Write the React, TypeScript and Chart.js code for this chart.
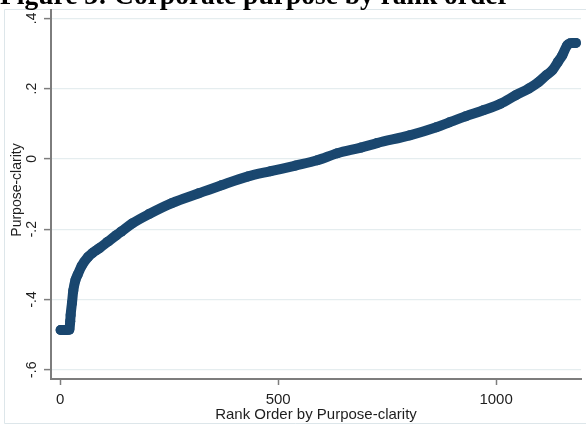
import React, { useEffect, useRef } from "react";
import { Chart, registerables } from "chart.js";

Chart.register(...registerables);

const chartTitle = "Figure 3: Corporate purpose by rank order";
const xAxisTitle = "Rank Order by Purpose-clarity";
const yAxisTitle = "Purpose-clarity";

// Rank order (x) and Purpose-clarity score (y)
const rankOrder = [
  1, 8, 15, 21, 23, 24, 27, 30, 35, 40, 49, 64, 74, 83, 90, 109, 129, 140,
  165, 204, 256, 318, 370, 431, 483, 540, 590, 636, 690, 727, 802, 863,
  893, 930, 970, 1010, 1045, 1075, 1097, 1115, 1129, 1142, 1152, 1163, 1170,
  1177, 1183,
];
const purposeClarity = [
  -0.487, -0.487, -0.487, -0.486, -0.462, -0.444, -0.41, -0.375, -0.345,
  -0.33, -0.305, -0.279, -0.268, -0.26, -0.254, -0.236, -0.217, -0.207,
  -0.184, -0.157, -0.126, -0.098, -0.075, -0.05, -0.035, -0.019,
  -0.004, 0.016, 0.032, 0.045, 0.067, 0.09, 0.104, 0.121, 0.138, 0.157,
  0.181, 0.2, 0.218, 0.238, 0.252, 0.276, 0.295, 0.323, 0.329, 0.33, 0.33,
];

const xTickValues = [0, 500, 1000];
const xTickLabels = ["0", "500", "1000"];
const yTickValues = [-0.6, -0.4, -0.2, 0, 0.2, 0.4];
const yTickLabels = ["-.6", "-.4", "-.2", "0", ".2", ".4"];

const NAVY = "#1a476f";
const AXIS = "#7d7d7d";
const GRID = "#e5edef";
const FRAME = "#dde6ea";
const TEXT = "#1e1e1e";

const overlayPlugin = {
  id: "overlay",
  beforeDraw(chart: any) {
    const { ctx, width, height } = chart;
    ctx.save();
    ctx.fillStyle = "#ffffff";
    ctx.fillRect(0, 0, width, height);
    ctx.strokeStyle = FRAME;
    ctx.lineWidth = 1;
    ctx.beginPath();
    ctx.moveTo(width, 9.5);
    ctx.lineTo(4.5, 9.5);
    ctx.lineTo(4.5, 423.5);
    ctx.lineTo(width, 423.5);
    ctx.stroke();
    ctx.restore();
  },
  afterDraw(chart: any) {
    const { ctx, chartArea } = chart;
    const xs = chart.scales.x;
    const ys = chart.scales.y;
    ctx.save();
    // figure title (cut off at the top)
    ctx.fillStyle = "#000000";
    ctx.font = "bold 27.5px 'Liberation Serif', 'Times New Roman', serif";
    ctx.textAlign = "left";
    ctx.textBaseline = "alphabetic";
    ctx.fillText(chartTitle, 0, 4);

    ctx.fillStyle = TEXT;
    // x tick labels
    ctx.font = "15px 'Liberation Sans', Arial, sans-serif";
    ctx.textAlign = "center";
    xTickValues.forEach((v, i) => {
      ctx.fillText(xTickLabels[i], xs.getPixelForValue(v), 404);
    });
    // x axis title
    ctx.fillText(xAxisTitle, (chartArea.left + chartArea.right) / 2, 418.5);

    // y tick labels (rotated)
    ctx.font = "14px 'Liberation Sans', Arial, sans-serif";
    yTickValues.forEach((v, i) => {
      ctx.save();
      ctx.translate(35.5, ys.getPixelForValue(v));
      ctx.rotate(-Math.PI / 2);
      ctx.textAlign = "center";
      ctx.fillText(yTickLabels[i], 0, 0);
      ctx.restore();
    });
    // y axis title
    ctx.save();
    ctx.translate(20.5, 190);
    ctx.rotate(-Math.PI / 2);
    ctx.textAlign = "center";
    ctx.fillText(yAxisTitle, 0, 0);
    ctx.restore();
    ctx.restore();
  },
};

export default function App() {
  const canvasRef = useRef<HTMLCanvasElement | null>(null);

  useEffect(() => {
    const canvas = canvasRef.current;
    if (!canvas) return;
    const points = rankOrder.map((r, i) => ({ x: r, y: purposeClarity[i] }));
    const chart = new Chart(canvas, {
      type: "scatter",
      data: {
        datasets: [
          {
            data: points,
            showLine: true,
            borderColor: NAVY,
            backgroundColor: NAVY,
            borderWidth: 10,
            borderCapStyle: "round",
            borderJoinStyle: "round",
            cubicInterpolationMode: "monotone",
            pointRadius: 5,
            pointBorderWidth: 0,
            pointBackgroundColor: NAVY,
            clip: false as any,
          } as any,
        ],
      },
      options: {
        responsive: false,
        animation: false,
        devicePixelRatio: 1,
        layout: { padding: { left: 0, top: 10, right: 0, bottom: 0 } },
        plugins: {
          legend: { display: false },
          tooltip: { enabled: false },
          title: { display: false },
        },
        scales: {
          x: {
            type: "linear",
            min: -21.1,
            max: 1194.8,
            afterFit: (s: any) => {
              s.height = 47;
            },
            afterBuildTicks: (s: any) => {
              s.ticks = xTickValues.map((v) => ({ value: v }));
            },
            ticks: { display: false },
            grid: {
              drawOnChartArea: false,
              drawTicks: true,
              tickLength: 6,
              tickColor: AXIS,
              tickWidth: 1.5,
            },
            border: { display: true, color: AXIS, width: 2 },
          },
          y: {
            type: "linear",
            min: -0.6264,
            max: 0.4236,
            afterFit: (s: any) => {
              s.width = 51;
            },
            afterBuildTicks: (s: any) => {
              s.ticks = yTickValues.map((v) => ({ value: v }));
            },
            ticks: { display: false },
            grid: {
              color: GRID,
              lineWidth: 1.2,
              drawTicks: true,
              tickLength: 7,
              tickColor: AXIS,
              tickWidth: 1.5,
            },
            border: { display: true, color: AXIS, width: 2 },
          },
        },
      },
      plugins: [overlayPlugin],
    });
    return () => chart.destroy();
  }, []);

  return (
    <div style={{ position: "fixed", left: 0, top: 0, width: 586, height: 426, background: "#fff" }}>
      <canvas ref={canvasRef} width={586} height={426} style={{ display: "block", width: 586, height: 426 }} />
    </div>
  );
}
